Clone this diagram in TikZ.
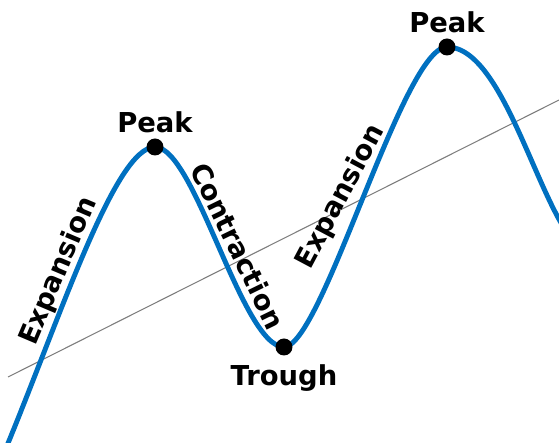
\documentclass[tikz,border=0pt]{standalone}
\usepackage{fontspec}
\usepackage{tikz}
\usetikzlibrary{positioning}
\newfontfamily\lblfont{DejaVu Sans}
\definecolor{myblue}{RGB}{0,112,192}
\definecolor{mygray}{RGB}{125,125,125}
\tikzset{
  wave/.style={line width=2.8pt, color=myblue},
  trendline/.style={line width=0.6pt, color=mygray},
  turnpt/.style={circle, fill=black, inner sep=0pt, minimum size=0.34cm},
  lbl/.style={font=\lblfont\bfseries\fontsize{15.6}{18}\selectfont, inner sep=0pt}
}

\begin{document}
\begin{tikzpicture}[x=0.02cm, y=0.02cm]
  \useasboundingbox (0,0) rectangle (559,443);

  % Trend line
  \coordinate (tl) at (8,66);
  \coordinate (tr) at (559,343);
  \draw[trendline] (tl) -- (tr);

  % Turning points
  \coordinate (peakA) at (155,296);
  \coordinate (trough) at (284,96);
  \coordinate (peakB) at (447,396);

  % Wave
  \begin{scope}
    \clip (0,0) rectangle (559,443);
    \draw[wave] (4,-10) .. controls (60,125) and (115,296) .. (peakA)
      .. controls (195,296) and (242,96) .. (trough)
      .. controls (322,96) and (403,396) .. (peakB)
      .. controls (510,396) and (545,200) .. (590,190);
  \end{scope}

  \node[turnpt] (dotA) at (peakA) {};
  \node[turnpt] (dotT) at (trough) {};
  \node[turnpt] (dotB) at (peakB) {};

  % Labels
  \node[lbl, above=0.1cm of dotA] (lblA) {Peak};
  \node[lbl, below=0.17cm of dotT] (lblT) {Trough};
  \node[lbl, above=0.1cm of dotB] (lblB) {Peak};
  \node[lbl, rotate=67] (expA) at (59,172) {Expansion};
  \node[lbl, rotate=-64] (contr) at (238,197) {Contraction};
  \node[lbl, rotate=62] (expB) at (341,246) {Expansion};
\end{tikzpicture}
\end{document}
